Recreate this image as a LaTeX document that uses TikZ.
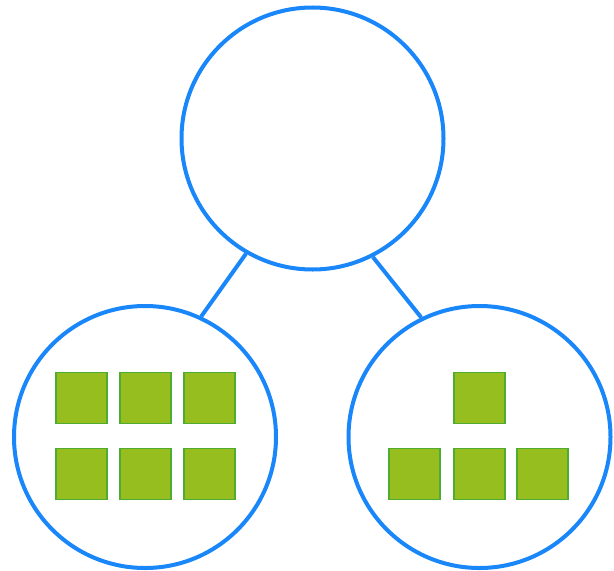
\documentclass[tikz,border=0pt]{standalone}
\usepackage{tikz}

\begin{document}
\begin{tikzpicture}[x=0.75pt,y=0.75pt,yscale=-1,xscale=1,
  bubble/.style={circle,draw={rgb, 255:red, 25; green, 135; blue, 250 },line width=3pt,minimum size=196.5pt,inner sep=0pt,fill=white},
  block/.style={rectangle,draw={rgb, 255:red, 78; green, 172; blue, 48 },line width=1.1pt,fill={rgb, 255:red, 150; green, 190; blue, 30 },minimum size=38pt,inner sep=0pt}]
%set diagram left start at 0, and has height of 571
\useasboundingbox (0,0) rectangle (614,571);

%Shape: Circle [id:top]
\node [bubble] (whole) at (312.5,138.5) {};
%Shape: Circle [id:left]
\node [bubble] (partA) at (145,437) {};
%Shape: Circle [id:right]
\node [bubble] (partB) at (479.5,437) {};

%Straight Lines [id:linkA]
\draw [color={rgb, 255:red, 25; green, 135; blue, 250 },line width=3pt] (whole.240) -- (partA.65) ;
%Straight Lines [id:linkB]
\draw [color={rgb, 255:red, 25; green, 135; blue, 250 },line width=3pt] (whole.297) -- (partB.116) ;

%Shape: Square [id:a1]
\node [block] (a1) at (81.5,398) {};
%Shape: Square [id:a2]
\node [block] (a2) at (145.5,398) {};
%Shape: Square [id:a3]
\node [block] (a3) at (209.5,398) {};
%Shape: Square [id:a4]
\node [block] (a4) at (81.5,474) {};
%Shape: Square [id:a5]
\node [block] (a5) at (145.5,474) {};
%Shape: Square [id:a6]
\node [block] (a6) at (209.5,474) {};

%Shape: Square [id:b1]
\node [block] (b1) at (479.5,398) {};
%Shape: Square [id:b2]
\node [block] (b2) at (414.5,474) {};
%Shape: Square [id:b3]
\node [block] (b3) at (479.5,474) {};
%Shape: Square [id:b4]
\node [block] (b4) at (542.5,474) {};

\end{tikzpicture}
\end{document}
